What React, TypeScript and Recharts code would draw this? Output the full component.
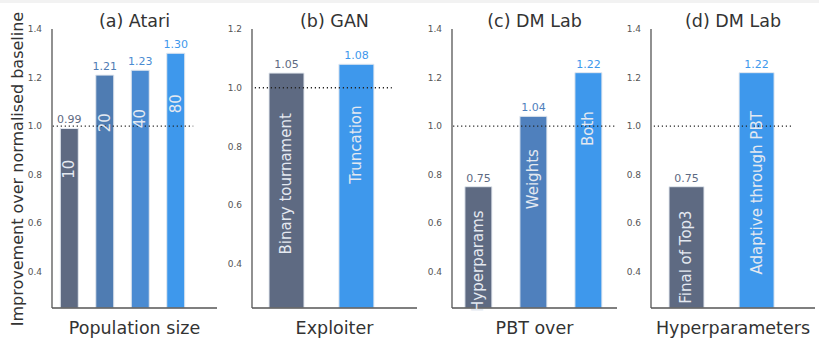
import React from 'react';
import { BarChart, Bar, XAxis, YAxis, Cell, LabelList, ReferenceLine } from 'recharts';

// values
const atariCats = ['10', '20', '40', '80'];
const atariVals = [0.99, 1.21, 1.23, 1.3];
const ganCats = ['Binary tournament', 'Truncation'];
const ganVals = [1.05, 1.08];
const pbtCats = ['Hyperparams', 'Weights', 'Both'];
const pbtVals = [0.75, 1.04, 1.22];
const hypCats = ['Final of Top3', 'Adaptive through PBT'];
const hypVals = [0.75, 1.22];

const titles = ['(a) Atari', '(b) GAN', '(c) DM Lab', '(d) DM Lab'];
const xLabels = ['Population size', 'Exploiter', 'PBT over', 'Hyperparameters'];
const yLabel = 'Improvement over normalised baseline';
const ticksTall = [0.4, 0.6, 0.8, 1.0, 1.2, 1.4];
const ticksShort = [0.4, 0.6, 0.8, 1.0, 1.2];
const baseline = 1.0;

const FONT = '"DejaVu Sans", sans-serif';
const DARK = '#5e6a82';
const MID1 = '#4f7cb2';
const MID2 = '#4a8bd2';
const BRIGHT = '#3e98ec';
const AXIS = '#555';
const Y_MIN = 0.25;

type PanelCfg = {
  cats: string[];
  vals: number[];
  colors: string[];
  axisX: number;
  width: number;
  xDomain: [number, number];
  yMax: number;
  ticks: number[];
  barSize: number;
};

const panels: PanelCfg[] = [
  { cats: atariCats, vals: atariVals, colors: [DARK, MID1, MID2, BRIGHT], axisX: 52, width: 165, xDomain: [-0.48, 4.17], yMax: 1.4, ticks: ticksTall, barSize: 18 },
  { cats: ganCats, vals: ganVals, colors: [DARK, BRIGHT], axisX: 252, width: 165, xDomain: [-0.5, 1.86], yMax: 1.2, ticks: ticksShort, barSize: 35 },
  { cats: pbtCats, vals: pbtVals, colors: [DARK, '#4f80bd', BRIGHT], axisX: 452, width: 165, xDomain: [-0.48, 2.52], yMax: 1.4, ticks: ticksTall, barSize: 27 },
  { cats: hypCats, vals: hypVals, colors: [DARK, BRIGHT], axisX: 651, width: 164, xDomain: [-0.5, 1.84], yMax: 1.4, ticks: ticksTall, barSize: 35 },
];

const Y_AXIS_W = 40;
const PLOT_TOP = 29;
const PLOT_BOTTOM = 308;
const H = 339;

const Panel: React.FC<{ cfg: PanelCfg }> = ({ cfg }) => {
  const data = cfg.cats.map((name, i) => ({ x: i, name, value: cfg.vals[i] }));
  const n = data.length;

  const valueLabel = (p: any) => {
    const { x, y, width, index } = p;
    return (
      <text x={x + width / 2} y={y - 5} textAnchor="middle" fontSize={11} fontFamily={FONT} fill={cfg.colors[index]}>
        {cfg.vals[index].toFixed(2)}
      </text>
    );
  };

  // rotated category name inside the bar, its end sitting a bit below the bar top
  const nameLabel = (p: any) => {
    const { x, y, width, height, index } = p;
    const v = cfg.vals[index];
    const pxPerUnit = height / (v - Y_MIN);
    const cx = x + width / 2;
    const yEnd = y + 0.13 * v * pxPerUnit;
    return (
      <text
        x={cx}
        y={yEnd}
        transform={`rotate(-90, ${cx}, ${yEnd})`}
        textAnchor="end"
        dominantBaseline="central"
        fontSize={15}
        fontFamily={FONT}
        fill="#e4e9f1"
      >
        {cfg.cats[index]}
      </text>
    );
  };

  return (
    <div style={{ position: 'absolute', left: cfg.axisX - Y_AXIS_W, top: 0 }}>
      <BarChart
        width={Y_AXIS_W + cfg.width + 2}
        height={H}
        data={data}
        margin={{ top: PLOT_TOP, right: 2, bottom: H - PLOT_BOTTOM - 1, left: 0 }}
      >
        <XAxis
          type="number"
          dataKey="x"
          domain={cfg.xDomain}
          allowDataOverflow
          tick={false}
          tickLine={false}
          height={1}
          axisLine={{ stroke: AXIS, strokeWidth: 1.3 }}
        />
        <YAxis
          type="number"
          domain={[Y_MIN, cfg.yMax]}
          allowDataOverflow
          ticks={cfg.ticks}
          width={Y_AXIS_W}
          tickLine={false}
          tickMargin={4}
          tickFormatter={(v: number) => v.toFixed(1)}
          tick={{ fontSize: 9, fill: AXIS, fontFamily: FONT }}
          axisLine={{ stroke: AXIS, strokeWidth: 1.3 }}
        />
        <Bar dataKey="value" barSize={cfg.barSize} isAnimationActive={false}>
          {data.map((d, i) => (
            <Cell key={d.name} fill={cfg.colors[i]} stroke="#e3e8ef" strokeWidth={1} />
          ))}
          <LabelList dataKey="value" content={valueLabel} />
          <LabelList dataKey="name" content={nameLabel} />
        </Bar>
        <ReferenceLine
          segment={[{ x: -0.46, y: baseline }, { x: n - 0.5, y: baseline }]}
          stroke="#222"
          strokeWidth={1.3}
          strokeDasharray="1.2 2.8"
        />
      </BarChart>
    </div>
  );
};

export default function App() {
  return (
    <div style={{ position: 'absolute', left: 0, top: 0, width: 819, height: H, background: '#fff', overflow: 'hidden' }}>
      <div style={{ position: 'absolute', left: 0, top: 0, width: 819, height: 3, background: '#f2f2f2' }} />
      {panels.map((cfg, i) => (
        <Panel key={titles[i]} cfg={cfg} />
      ))}
      <svg width={819} height={H} style={{ position: 'absolute', left: 0, top: 0, pointerEvents: 'none' }}>
        {panels.map((cfg, i) => (
          <g key={titles[i]} fontFamily={FONT} fill="#333">
            <text x={cfg.axisX + cfg.width / 2} y={27} textAnchor="middle" fontSize={17.5}>
              {titles[i]}
            </text>
            <text x={cfg.axisX + cfg.width / 2} y={334} textAnchor="middle" fontSize={17.5}>
              {xLabels[i]}
            </text>
          </g>
        ))}
        <text
          x={17}
          y={169}
          transform="rotate(-90, 17, 169)"
          textAnchor="middle"
          dominantBaseline="central"
          fontSize={16}
          fontFamily={FONT}
          fill="#333"
        >
          {yLabel}
        </text>
      </svg>
    </div>
  );
}
